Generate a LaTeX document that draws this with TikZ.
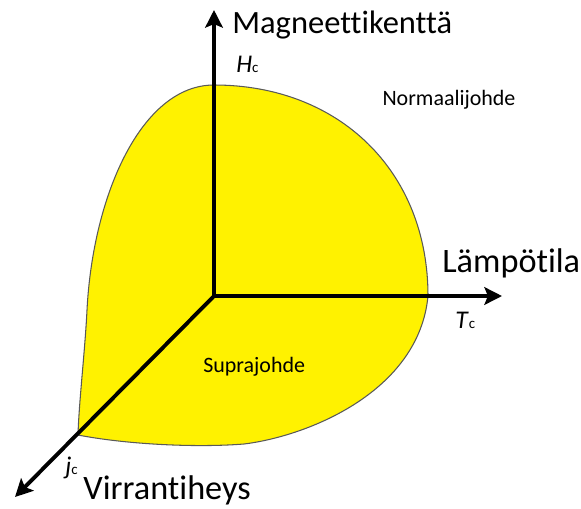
\documentclass[tikz,border=0pt]{standalone}
\usepackage{fontspec}
\setmainfont[Ligatures=CommonOff]{Carlito}
\usetikzlibrary{arrows.meta}

% kriittinen arvo: kursiivi kirjain ja pieni c
\newcommand{\critval}[1]{\textit{#1}{\fontsize{8.5}{9}\selectfont\upshape c}}

\begin{document}
\begin{tikzpicture}[x=0.02cm, y=0.02cm,
    axis/.style={line width=2.2pt, line cap=round, -{Stealth[length=10pt, width=10pt, inset=2pt]}},
    bigtext/.style={font=\fontsize{19.5}{21}\selectfont, inner sep=0pt},
    smalltext/.style={font=\fontsize{12.5}{14}\selectfont, inner sep=0pt},
    critlabel/.style={font=\fontsize{14.5}{16}\selectfont, inner sep=0pt}]
    \useasboundingbox (-214,-212) rectangle (367,296);

    % Suprajohtava alue
    \filldraw[fill=yellow, draw=black!65, line width=0.6pt]
        (214,0) .. controls (214,125) and (125,211) .. (0,211)
        .. controls (-72,211) and (-121,102) .. (-127,-14)
        .. controls (-129,-55) and (-135,-105) .. (-136,-139)
        .. controls (-90,-148) and (-20,-152) .. (30,-148)
        .. controls (95,-140) and (205,-95) .. (214,0) -- cycle;

    % Akselit
    \coordinate (O) at (0,0);
    \coordinate (Hmax) at (0,286);
    \coordinate (Tmax) at (288,0);
    \coordinate (jmax) at (-199,-201);
    \draw[axis] (O) -- (Hmax);
    \draw[axis] (O) -- (Tmax);
    \draw[axis] (O) -- (jmax);

    % Tekstit
    \node[bigtext, font=\fontsize{18.5}{20}\selectfont, anchor=base west] (magn) at (18,263) {Magneettikenttä};
    \node[critlabel, anchor=base west] (Hc) at (22,224) {\critval{H}};
    \node[smalltext] (normal) at (235,196) {Normaalijohde};
    \node[bigtext, anchor=base west] (temp) at (228,24) {Lämpötila};
    \node[critlabel, anchor=base west] (Tc) at (241,-32) {\critval{T}};
    \node[smalltext, anchor=base west] (supra) at (-11,-76) {Suprajohde};
    \node[critlabel, anchor=base west] (jc) at (-149,-178) {\critval{j}};
    \node[bigtext, anchor=base west] (virta) at (-131,-203) {Virrantiheys};
\end{tikzpicture}
\end{document}
